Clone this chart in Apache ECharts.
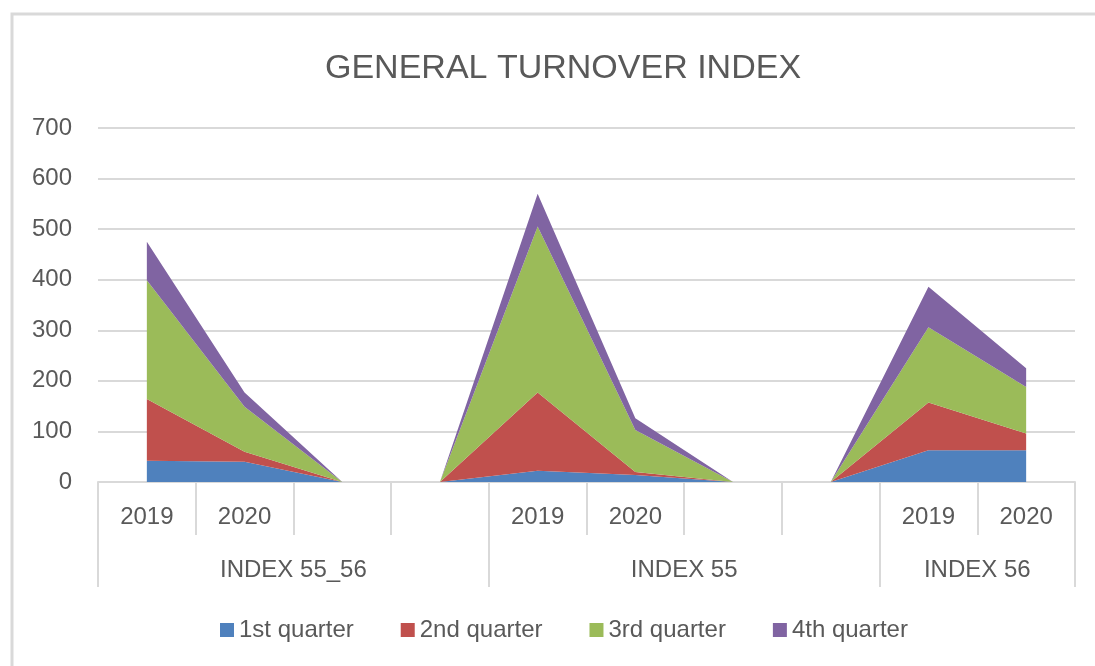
<!DOCTYPE html>
<html lang="en">
<head>
<meta charset="UTF-8">
<title>General turnover index</title>
<script src="https://cdn.jsdelivr.net/npm/echarts@6/dist/echarts.min.js"></script>
<style>
body{margin:0;padding:0;background:#fff;}
#main{width:1095px;height:666px;}
</style>
</head>
<body>
<div id="main"></div>
<script>
// two level category axis: years inside groups
var groups = ['INDEX 55_56', 'INDEX 55', 'INDEX 56'];
var groupCenters = [2, 6, 9];
var groupEdges = [0, 4, 8, 10];
var years = ['2019', '2020', '', '', '2019', '2020', '', '', '2019', '2020'];

var q1 = [42, 40, 0, 0, 22, 14, 0, 0, 63, 63];
var q2 = [122, 20, 0, 0, 155, 6, 0, 0, 94, 33];
var q3 = [235, 89, 0, 0, 328, 83, 0, 0, 149, 92];
var q4 = [76, 28, 0, 0, 65, 23, 0, 0, 80, 37];

var names = ['1st quarter', '2nd quarter', '3rd quarter', '4th quarter'];
var colors = ['#4f81bd', '#c0504d', '#9bbb59', '#8064a2'];

var font = 'Liberation Sans';
var txt = '#595959';
var lineGrey = '#d9d9d9';

var myChart = echarts.init(document.getElementById('main'));

var series = [q1, q2, q3, q4].map(function (d, i) {
    return {
        name: names[i],
        type: 'line',
        stack: 'total',
        data: d,
        symbol: 'none',
        lineStyle: { width: 0 },
        areaStyle: { color: colors[i], opacity: 1 }
    };
});

var option = {
    animation: false,
    color: colors,
    textStyle: { fontFamily: font },
    title: {
        text: 'GENERAL TURNOVER INDEX',
        left: 320,
        top: 47,
        textStyle: { color: txt, fontSize: 34, fontWeight: 'normal', fontFamily: font }
    },
    graphic: [{
        type: 'rect',
        shape: { x: 12, y: 14, width: 1110, height: 700 },
        style: { fill: 'none', stroke: lineGrey, lineWidth: 3 },
        silent: true
    }],
    legend: {
        data: names,
        left: 215,
        top: 613,
        icon: 'rect',
        itemWidth: 14,
        itemHeight: 14,
        itemGap: 47,
        textStyle: { color: txt, fontSize: 24, fontFamily: font }
    },
    grid: { left: 98, right: 20, top: 128, bottom: 184 },
    xAxis: [{
        type: 'category',
        boundaryGap: true,
        data: years.map(function (y, i) { return i + '_' + y; }),
        axisLine: { lineStyle: { color: lineGrey, width: 2 } },
        axisTick: { show: true, interval: 0, length: 53, lineStyle: { color: lineGrey, width: 2 } },
        axisLabel: {
            interval: 0,
            color: txt,
            fontSize: 24,
            lineHeight: 24,
            margin: 23,
            formatter: function (v, i) { return years[i]; }
        }
    }, {
        type: 'value',
        min: 0,
        max: 10,
        position: 'bottom',
        axisLine: { show: false },
        splitLine: { show: false },
        axisTick: { show: true, customValues: groupEdges, length: 105, lineStyle: { color: lineGrey, width: 2 } },
        axisLabel: {
            customValues: groupCenters,
            color: txt,
            fontSize: 24,
            lineHeight: 24,
            margin: 76,
            formatter: function (v) { return groups[groupCenters.indexOf(v)]; }
        }
    }],
    yAxis: {
        type: 'value',
        min: 0,
        max: 700,
        interval: 100,
        axisLine: { show: false },
        axisTick: { show: false },
        axisLabel: { color: txt, fontSize: 24, margin: 26 },
        splitLine: { lineStyle: { color: lineGrey, width: 2 } }
    },
    series: series
};
myChart.setOption(option);
</script>
</body>
</html>
